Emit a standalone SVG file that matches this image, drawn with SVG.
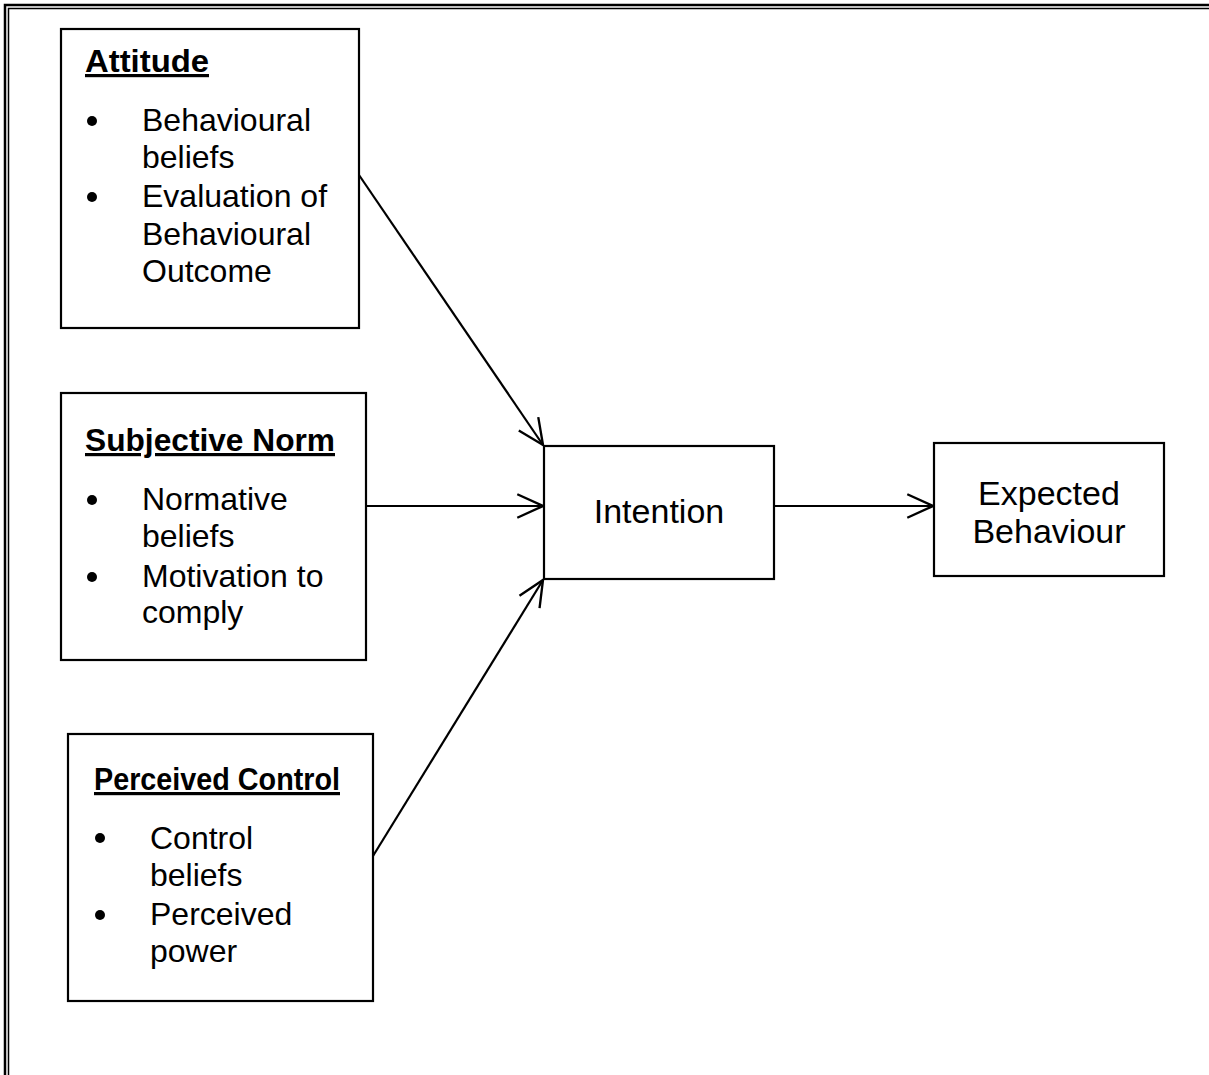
<svg xmlns="http://www.w3.org/2000/svg" width="1209" height="1075" viewBox="0 0 1209 1075">
  <style>
    .box { fill: #fff; stroke: #000; stroke-width: 2.2; }
    .frame { fill: none; stroke: #000; }
    .head { font-family: "Liberation Sans", Arial, sans-serif; font-weight: bold; font-size: 32px; fill: #000; text-decoration: underline; }
    .body { font-family: "Liberation Sans", Arial, sans-serif; font-size: 32px; fill: #000; }
    .mid { font-family: "Liberation Sans", Arial, sans-serif; font-size: 34px; fill: #000; text-anchor: middle; }
    .link { stroke: #000; stroke-width: 2.2; fill: none; marker-end: url(#open); }
  </style>
  <defs>
    <marker id="open" markerUnits="userSpaceOnUse" markerWidth="30" markerHeight="30" viewBox="-26 -13 28 26" refX="0" refY="0" orient="auto">
      <path d="M-24,-11 L0,0 L-24,11" fill="none" stroke="#000" stroke-width="2.2"/>
    </marker>
  </defs>

  <rect width="1209" height="1075" fill="#fff"/>

  <!-- double page frame -->
  <rect class="frame" x="5" y="5" width="1300" height="1200" stroke-width="2.5"/>
  <rect class="frame" x="8.5" y="8.5" width="1300" height="1200" stroke-width="1.5"/>

  <g id="connectors">
    <line class="link" x1="359" y1="175" x2="543" y2="445"/>
    <line class="link" x1="366" y1="506" x2="543" y2="506"/>
    <line class="link" x1="373" y1="856" x2="543" y2="580"/>
    <line class="link" x1="774" y1="506" x2="933" y2="506"/>
  </g>

  <g id="attitude">
    <rect class="box" x="61" y="29" width="298" height="299"/>
    <text class="head" x="85" y="72" textLength="124" lengthAdjust="spacingAndGlyphs">Attitude</text>
    <circle cx="92" cy="121" r="5"/>
    <circle cx="92" cy="197" r="5"/>
    <text class="body" x="142" y="131">Behavioural</text>
    <text class="body" x="142" y="168">beliefs</text>
    <text class="body" x="142" y="207">Evaluation of</text>
    <text class="body" x="142" y="245">Behavioural</text>
    <text class="body" x="142" y="282">Outcome</text>
  </g>

  <g id="subjective-norm">
    <rect class="box" x="61" y="393" width="305" height="267"/>
    <text class="head" x="85" y="451" textLength="250" lengthAdjust="spacingAndGlyphs">Subjective Norm</text>
    <circle cx="92" cy="500" r="5"/>
    <circle cx="92" cy="577" r="5"/>
    <text class="body" x="142" y="510">Normative</text>
    <text class="body" x="142" y="547">beliefs</text>
    <text class="body" x="142" y="587">Motivation to</text>
    <text class="body" x="142" y="623">comply</text>
  </g>

  <g id="perceived-control">
    <rect class="box" x="68" y="734" width="305" height="267"/>
    <text class="head" x="94" y="790" font-size="28" textLength="246" lengthAdjust="spacingAndGlyphs">Perceived Control</text>
    <circle cx="100" cy="838" r="5"/>
    <circle cx="100" cy="915" r="5"/>
    <text class="body" x="150" y="849">Control</text>
    <text class="body" x="150" y="886">beliefs</text>
    <text class="body" x="150" y="925">Perceived</text>
    <text class="body" x="150" y="962">power</text>
  </g>

  <g id="intention">
    <rect class="box" x="544" y="446" width="230" height="133"/>
    <text class="mid" x="659" y="523">Intention</text>
  </g>

  <g id="expected-behaviour">
    <rect class="box" x="934" y="443" width="230" height="133"/>
    <text class="mid" x="1049" y="505">Expected</text>
    <text class="mid" x="1049" y="543">Behaviour</text>
  </g>
</svg>
